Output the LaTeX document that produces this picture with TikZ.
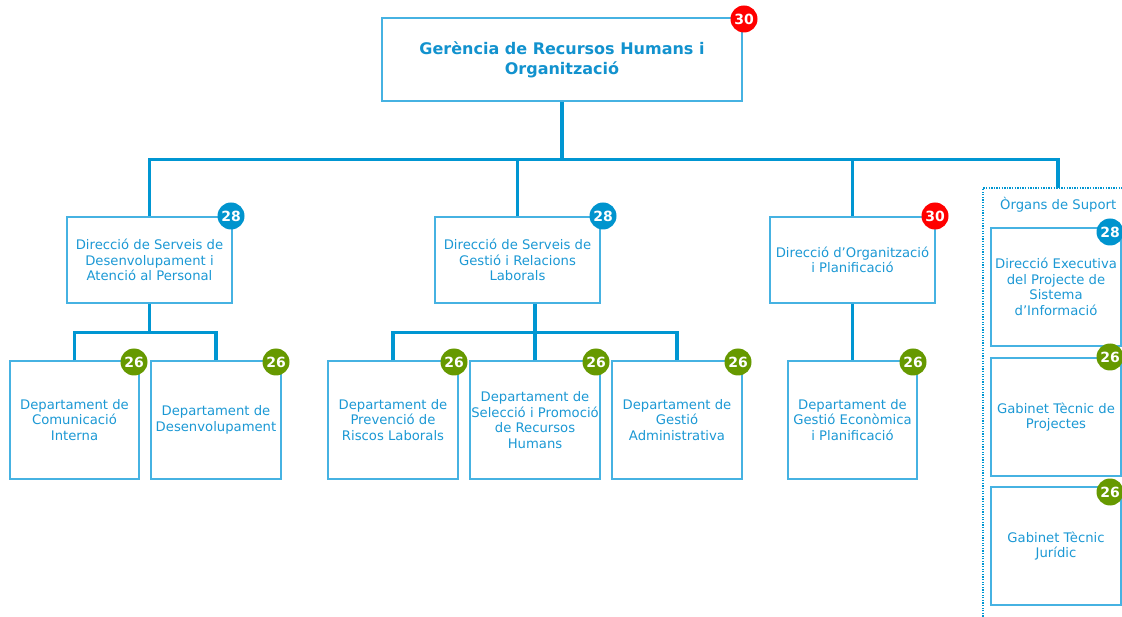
\documentclass[tikz,border=0pt]{standalone}
\usepackage{fontspec}
\setmainfont{DejaVu Sans}
\definecolor{connc}{RGB}{0,150,210}
\definecolor{boxc}{RGB}{70,178,226}
\definecolor{txtc}{RGB}{27,152,212}
\definecolor{titc}{RGB}{18,146,206}
\definecolor{bblue}{RGB}{0,148,206}
\definecolor{bgreen}{RGB}{102,153,0}
\definecolor{bred}{RGB}{255,0,0}
\begin{document}
\begin{tikzpicture}[x=1pt,y=-1pt,
  box/.style={draw=boxc, line width=1.3pt, text=txtc, align=center, inner sep=1pt, font=\fontsize{13.2}{15.5}\selectfont},
  lvtop/.style={box, minimum width=360pt, minimum height=83pt, text=titc, font=\bfseries\fontsize{16}{20}\selectfont},
  lvtwo/.style={box, minimum width=165pt, minimum height=86pt},
  leaf/.style={box, minimum width=130pt, minimum height=118pt},
  badge/.style={circle, fill=#1, text=white, font=\bfseries\fontsize{14}{14}\selectfont, minimum size=27pt, inner sep=0pt},
  conn/.style={draw=connc, line width=3.5pt},
  supbox/.style={draw=connc, line width=1.2pt, dash pattern=on 1.3pt off 1.3pt}
]
\useasboundingbox (0,0) rectangle (1122,617);
\clip (0,0) rectangle (1122,617);

% top
\node[lvtop] (top) at (562,59.5) {Gerència de Recursos Humans i\\Organització};

% level 2
\node[lvtwo] (d1) at (149.5,260) {Direcció de Serveis de\\Desenvolupament i\\Atenció al Personal};
\node[lvtwo] (d2) at (517.5,260) {Direcció de Serveis de\\Gestió i Relacions\\Laborals};
\node[lvtwo] (d3) at (852.5,260) {Direcció d’Organització\\i Planificació};

% support group
\draw[supbox] (983,640) -- (983,188) -- (1130,188);
\coordinate (supin) at (1058,188);
\node[text=txtc, anchor=west, font=\fontsize{13.2}{15.5}\selectfont, inner sep=0pt] (suplab) at (1000,205) {Òrgans de Suport};
\node[leaf] (s1) at (1056,287) {Direcció Executiva\\del Projecte de\\Sistema\\d’Informació};
\node[leaf] (s2) at (1056,417) {Gabinet Tècnic de\\Projectes};
\node[leaf] (s3) at (1056,546) {Gabinet Tècnic\\Jurídic};

% leaves
\node[leaf, minimum width=129pt] (c1) at (74.5,420) {Departament de\\Comunicació\\Interna};
\node[leaf] (c2) at (216,420) {Departament de\\Desenvolupament};
\node[leaf] (p1) at (393,420) {Departament de\\Prevenció de\\Riscos Laborals};
\node[leaf] (p2) at (535,420) {Departament de\\Selecció i Promoció\\de Recursos\\Humans};
\node[leaf] (p3) at (677,420) {Departament de\\Gestió\\Administrativa};
\node[leaf, minimum width=129pt] (e1) at (852.5,420) {Departament de\\Gestió Econòmica\\i Planificació};

% connectors
\draw[conn] (top.south) -- ++(0,58) coordinate (b0);
\draw[conn] (d1.north) |- (b0) -| (supin);
\draw[conn] (d2.north) -- (d2.north |- b0);
\draw[conn] (d3.north) -- (d3.north |- b0);

\draw[conn] (d1.south) -- ++(0,29) coordinate (b1);
\draw[conn] (c1.north) |- (b1) -| (c2.north);

\draw[conn] (p2.north) -- (p2.north |- d2.south);
\draw[conn] (p1.north) |- (p2.north |- b1) -| (p3.north);

\draw[conn] (d3.south) -- (e1.north);

% badges
\node[badge=bred] (bt) at (744,19) {30};
\node[badge=bblue] (bd1) at (231,216) {28};
\node[badge=bblue] (bd2) at (603,216) {28};
\node[badge=bred] (bd3) at (935,216) {30};
\node[badge=bgreen] (bc1) at (134,362) {26};
\node[badge=bgreen] (bc2) at (276,362) {26};
\node[badge=bgreen] (bp1) at (454,362) {26};
\node[badge=bgreen] (bp2) at (596,362) {26};
\node[badge=bgreen] (bp3) at (738,362) {26};
\node[badge=bgreen] (be1) at (913,362) {26};
\node[badge=bblue] (bs1) at (1110,232) {28};
\node[badge=bgreen] (bs2) at (1110,357) {26};
\node[badge=bgreen] (bs3) at (1110,492) {26};
\end{tikzpicture}
\end{document}
